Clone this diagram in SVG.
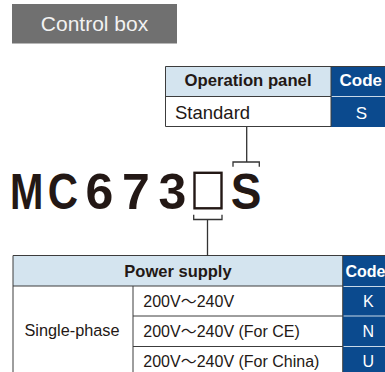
<svg xmlns="http://www.w3.org/2000/svg" width="385" height="372" viewBox="0 0 385 372">
<style>
.hd{fill:#d4e4ef}
.cd{fill:#0b4a8e}
.ln{stroke:#3c3c3c;stroke-width:1;fill:none}
.sep{stroke:#c8d8e8;stroke-width:1;fill:none}
.br{stroke:#333;stroke-width:1.3;fill:none}
.t{font-family:"Liberation Sans",Arial,sans-serif;fill:#231815}
.b{font-weight:bold}
.w{fill:#ffffff}
.tl{font-family:"Noto Sans CJK JP",sans-serif}
</style>
<rect width="385" height="372" fill="#ffffff"/>
<g id="control-box">
<rect x="12" y="4" width="165" height="39.5" fill="#707070"/>
<text class="t" x="94.5" y="31" font-size="21" text-anchor="middle" style="fill:#f2f2f2">Control box</text>
</g>
<g id="operation-panel">
<rect class="hd" x="165" y="66" width="166" height="30.5"/>
<rect x="165" y="96.5" width="166" height="30.5" fill="#ffffff"/>
<rect class="cd" x="331" y="66" width="54" height="61"/>
<line class="sep" x1="331.5" y1="96.5" x2="385" y2="96.5"/>
<path class="ln" d="M385 66.5H165.5V126.5H331M165.5 96.5H331M331 66.5V126.5"/>
<text class="t b" x="248" y="86" font-size="16.7" text-anchor="middle">Operation panel</text>
<text class="t b w" x="339.5" y="86" font-size="17">Code</text>
<text class="t" x="175" y="118.5" font-size="18.5">Standard</text>
<text class="t w" x="361.5" y="119" font-size="17" text-anchor="middle">S</text>
</g>
<g id="model-code">
<text class="t b" font-size="50" text-anchor="middle" transform="translate(26.7 209) scale(0.8 1)">M</text>
<text class="t b" font-size="50" text-anchor="middle" transform="translate(63 209) scale(0.84 1)">C</text>
<text class="t b" font-size="50" text-anchor="middle" x="99.3" y="209">6</text>
<text class="t b" font-size="50" text-anchor="middle" x="135.8" y="209">7</text>
<text class="t b" font-size="50" text-anchor="middle" x="172.5" y="209">3</text>
<rect x="194.5" y="172.8" width="27" height="35.5" fill="none" stroke="#231815" stroke-width="2.4"/>
<text class="t b" font-size="50" text-anchor="middle" transform="translate(246 209) scale(0.92 1)">S</text>
</g>
<g id="power-supply">
<rect class="hd" x="13" y="256" width="330" height="30"/>
<rect class="cd" x="343" y="256" width="42" height="120"/>
<line class="sep" x1="343.5" y1="286.5" x2="385" y2="286.5"/>
<line class="sep" x1="343.5" y1="316" x2="385" y2="316"/>
<line class="sep" x1="343.5" y1="346.5" x2="385" y2="346.5"/>
<path class="ln" d="M385 255.5H13V372M13 286H343M133 286V372M133 316H343M133 346.5H343M342.7 255.5V372"/>
<text class="t b" x="178" y="277" font-size="16.5" text-anchor="middle">Power supply</text>
<text class="t b w" x="345.5" y="277" font-size="16">Code</text>
<text class="t" x="72" y="336" font-size="16.3" text-anchor="middle">Single-phase</text>
<text class="t" x="143.3" y="306.5" font-size="16">200V<tspan class="tl">～</tspan>240V</text>
<text class="t" x="143.3" y="337" font-size="16">200V<tspan class="tl">～</tspan>240V (For CE)</text>
<text class="t" x="143.3" y="367" font-size="16">200V<tspan class="tl">～</tspan>240V (For China)</text>
<text class="t w" x="368.3" y="306.5" font-size="16" text-anchor="middle">K</text>
<text class="t w" x="368.3" y="337" font-size="16" text-anchor="middle">N</text>
<text class="t w" x="368.3" y="367" font-size="16" text-anchor="middle">U</text>
</g>
<g id="connectors">
<path class="br" d="M246.7 127V162M233 166.8V162H259.3V166.8"/>
<path class="br" d="M193.7 214.8V219.5H222V214.8M207.5 219.5V256"/>
</g>
</svg>
